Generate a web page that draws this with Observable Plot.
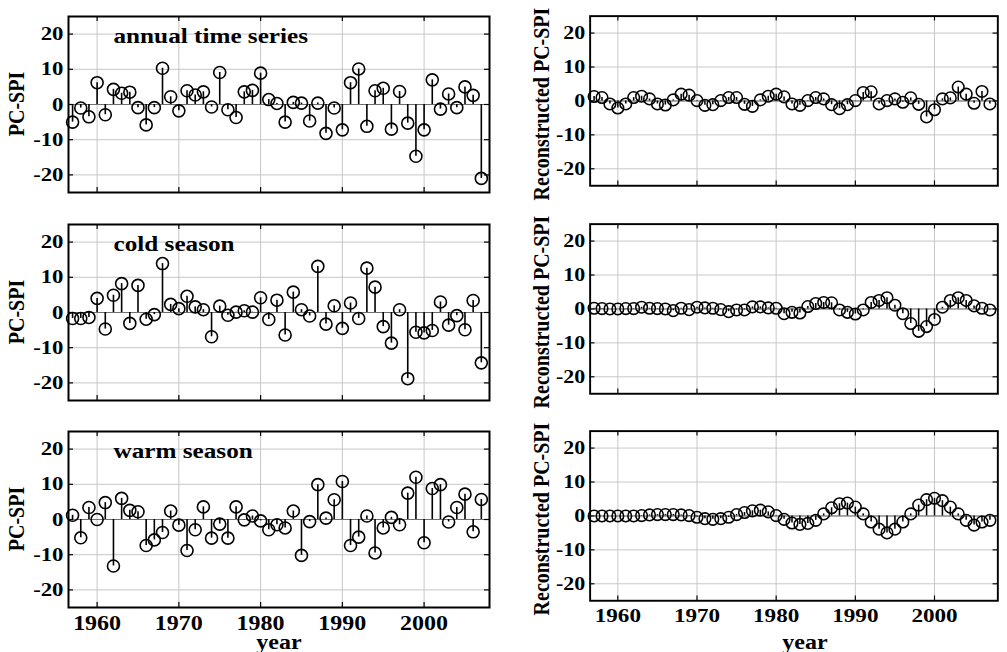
<!DOCTYPE html>
<html><head><meta charset="utf-8">
<script src="https://cdn.jsdelivr.net/npm/d3@7"></script>
<script src="https://cdn.jsdelivr.net/npm/@observablehq/plot@0.6"></script>
<style>
body{margin:0;background:#fff;}
#fig{position:relative;width:1007px;height:652px;overflow:hidden;background:#fff;font-family:"Liberation Serif","Times New Roman",serif;font-weight:bold;}
.panel{position:absolute;}
.lbl{position:absolute;white-space:nowrap;font-size:20px;color:#000;line-height:1;}
</style></head><body><div id="fig"></div>
<script>
// ---- data ----
const years = [1957,1958,1959,1960,1961,1962,1963,1964,1965,1966,1967,1968,1969,1970,1971,1972,1973,1974,1975,1976,1977,1978,1979,1980,1981,1982,1983,1984,1985,1986,1987,1988,1989,1990,1991,1992,1993,1994,1995,1996,1997,1998,1999,2000,2001,2002,2003,2004,2005,2006,2007];
const annual = [-5.0,-1.0,-3.5,6.2,-2.9,4.3,3.2,3.5,-0.9,-5.8,-0.9,10.3,2.2,-1.8,3.9,2.7,3.6,-0.7,9.1,-1.5,-3.7,3.6,4.0,8.9,1.4,0.3,-5.0,0.6,0.4,-4.7,0.4,-8.2,-1.0,-7.2,6.2,10.1,-6.2,3.9,4.6,-7.0,3.7,-5.3,-14.7,-7.2,7.0,-1.3,3.0,-0.9,5.0,2.6,-21.0];
const cold = [-1.7,-1.7,-1.4,4.0,-4.7,4.9,8.2,-3.1,7.7,-1.9,-0.6,13.9,2.3,1.1,4.6,1.6,0.8,-6.9,1.8,-0.8,0.1,0.5,0.1,4.2,-2.0,3.5,-6.4,5.8,0.8,-1.0,13.1,-3.3,1.9,-4.5,2.7,-1.7,12.6,7.2,-4.0,-8.7,0.8,-18.8,-5.6,-5.8,-5.1,3.0,-3.6,-0.9,-4.9,3.4,-14.3];
const warm = [1.2,-5.2,3.4,0.0,4.8,-13.2,6.0,2.6,2.2,-7.4,-5.8,-3.7,2.4,-1.6,-8.8,-2.9,3.6,-5.3,-1.3,-5.3,3.6,-0.1,1.0,-0.4,-2.9,-1.5,-2.4,2.4,-10.2,-0.6,9.9,0.4,5.6,10.8,-7.4,-5.0,1.0,-9.5,-2.4,0.6,-1.5,7.5,12.0,-6.6,8.8,9.9,-0.7,3.4,7.2,-3.5,5.7];
const annualRec = [1.3,1.0,-0.9,-2.1,-0.9,1.0,1.4,0.6,-0.9,-1.2,0.3,2.0,1.7,0.1,-1.3,-1.1,0.1,1.0,1.0,-1.0,-1.6,0.3,1.4,2.0,1.2,-0.9,-1.3,0.1,1.0,0.6,-1.1,-2.3,-1.1,0.1,2.5,2.7,-0.9,0.1,0.6,-0.4,0.9,-1.0,-4.7,-2.6,0.6,0.9,4.1,2.0,-0.7,2.8,-0.9];
const coldRec = [0.2,0.1,0.0,0.0,0.1,0.1,0.5,0.2,0.1,0.0,-0.5,0.2,-0.2,0.5,0.3,0.2,-0.2,-0.8,-0.3,-0.3,0.6,0.6,0.3,0.2,-1.4,-1.0,-1.2,0.7,1.6,1.9,1.8,-0.3,-1.0,-1.5,-0.3,1.9,2.5,3.3,1.1,-1.4,-4.3,-6.6,-5.2,-3.1,0.5,2.5,3.3,2.5,0.9,0.2,-0.3];
const warmRec = [0,0,0,0,0,0,0.1,0.3,0.4,0.4,0.4,0.3,0.1,-0.4,-0.8,-1.0,-0.8,-0.4,0.4,1.0,1.5,1.7,1.2,0.1,-1.0,-2.1,-2.5,-2.2,-1.3,0.6,2.4,3.6,3.8,2.6,0.6,-1.8,-3.9,-5.0,-3.9,-1.8,0.6,3.2,4.8,5.2,4.5,2.6,0.6,-1.3,-2.7,-1.8,-1.3];
const titles = ["annual time series", "cold season", "warm season"];
const xTicks = [1960, 1970, 1980, 1990, 2000];
const yTicks = [-20, -10, 0, 10, 20];
const xLabel = "year";
const yLabelLeft = "PC-SPI";
const yLabelRight = "Reconstructed PC-SPI";

// ---- layout ----
const X_DOMAIN = [1956.5, 2008], Y_DOMAIN = [-25, 25];
const FRAME_TOPS = [16, 224, 431];
const FRAME_H = 176;
const STRETCH = 1.2;
const fig = document.getElementById("fig");

function stretchText(svg, s) {
  svg.querySelectorAll("text").forEach(t => {
    const x = +t.getAttribute("x") || 0, y = +t.getAttribute("y") || 0;
    const tr = t.getAttribute("transform") || "";
    t.setAttribute("transform", `${tr} translate(${x},${y}) scale(${s},1) translate(${-x},${-y})`);
  });
}

function panel({values, title, left, width, mLeft, mRight, row}) {
  const last = row === 2;
  const data = years.map((year, i) => ({year, value: values[i]}));
  const mt = 10, mb = last ? 40 : 10;
  const innerW = width - mLeft - mRight;
  const tx = 5 / (innerW / (X_DOMAIN[1] - X_DOMAIN[0]));
  const ty = 5 / (FRAME_H / (Y_DOMAIN[1] - Y_DOMAIN[0]));
  const marks = [
    Plot.gridX(xTicks, {stroke: "#c6c6c6", strokeOpacity: 1}),
    Plot.gridY(yTicks, {stroke: "#c6c6c6", strokeOpacity: 1}),
    Plot.ruleY([0], {stroke: "#6f6f6f", strokeWidth: 1.1}),
    Plot.ruleX(data, {x: "year", y1: 0, y2: "value", stroke: "#000", strokeWidth: 1.6}),
    Plot.dot(data, {x: "year", y: "value", r: 6, stroke: "#000", strokeWidth: 1.6, fill: "none"}),
    Plot.ruleX(xTicks, {y1: Y_DOMAIN[0], y2: Y_DOMAIN[0] + ty, stroke: "#000", strokeWidth: 1.2}),
    Plot.ruleX(xTicks, {y1: Y_DOMAIN[1], y2: Y_DOMAIN[1] - ty, stroke: "#000", strokeWidth: 1.2}),
    Plot.ruleY(yTicks, {x1: X_DOMAIN[0], x2: X_DOMAIN[0] + tx, stroke: "#000", strokeWidth: 1.2}),
    Plot.ruleY(yTicks, {x1: X_DOMAIN[1], x2: X_DOMAIN[1] - tx, stroke: "#000", strokeWidth: 1.2}),
    Plot.axisY(yTicks, {tickSize: 0, tickPadding: 5, tickFormat: d => String(d), label: null}),
    Plot.frame({stroke: "#000", strokeWidth: 2})
  ];
  if (last) marks.push(Plot.axisX(xTicks, {tickSize: 0, tickPadding: 8, tickFormat: d => String(d), label: null, fontSize: 20}));
  if (title) marks.push(Plot.text([title], {text: d => d, frameAnchor: "top-left", dx: 45, dy: 26, textAnchor: "start", lineAnchor: "bottom", fontSize: 21}));
  const svg = Plot.plot({
    width, height: mt + FRAME_H + mb,
    marginLeft: mLeft, marginRight: mRight, marginTop: mt, marginBottom: mb,
    x: {domain: X_DOMAIN, axis: last ? undefined : null},
    y: {domain: Y_DOMAIN},
    style: {fontFamily: "'Liberation Serif', 'Times New Roman', serif", fontSize: "19px", fontWeight: "bold", background: "transparent", overflow: "visible", color: "#000"},
    marks
  });
  stretchText(svg, STRETCH);
  const wrap = document.createElement("div");
  wrap.className = "panel";
  wrap.style.left = left + "px";
  wrap.style.top = (FRAME_TOPS[row] - mt) + "px";
  wrap.appendChild(svg);
  fig.appendChild(wrap);
}

function label(text, cx, cy, rotate) {
  const d = document.createElement("div");
  d.className = "lbl";
  d.textContent = text;
  d.style.left = cx + "px";
  d.style.top = cy + "px";
  d.style.transform = rotate
    ? "translate(-50%,-50%) rotate(-90deg) scaleY(1.15)"
    : "translate(-50%,-50%) scaleX(" + STRETCH + ")";
  fig.appendChild(d);
}

const leftSeries = [annual, cold, warm];
const rightSeries = [annualRec, coldRec, warmRec];
for (let r = 0; r < 3; r++) {
  panel({values: leftSeries[r], title: titles[r], left: 0, width: 500, mLeft: 68, mRight: 11, row: r});
  panel({values: rightSeries[r], title: null, left: 500, width: 526, mLeft: 93, mRight: 10, row: r});
  const cy = FRAME_TOPS[r] + FRAME_H / 2;
  label(yLabelLeft, 15.5, cy, true);
  label(yLabelRight, 541, cy, true);
}
label(xLabel, 278.5, 642, false);
label(xLabel, 804.5, 642, false);
</script></body></html>
